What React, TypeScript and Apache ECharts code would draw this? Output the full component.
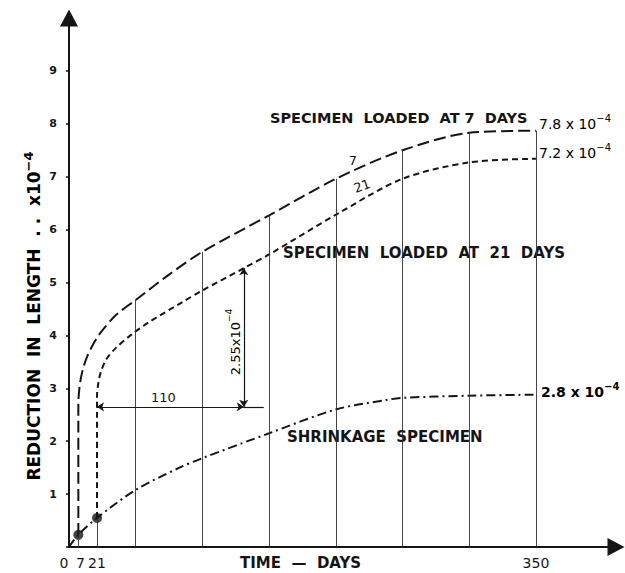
import React, { useEffect, useRef } from "react";
import * as echarts from "echarts";

// Specimen loaded at 7 days (reduction in length, x10^-4)
const days7 = [7, 7, 8, 10, 13, 17, 23, 35, 50, 75, 100, 150, 200, 250, 300, 350];
const vals7 = [0.23, 2.7, 3.05, 3.32, 3.56, 3.78, 4.03, 4.38, 4.67, 5.15, 5.58, 6.27, 6.96, 7.5, 7.83, 7.87];
// Specimen loaded at 21 days
const days21 = [21, 21, 22, 24, 28, 35, 47, 60, 85, 100, 131, 150, 200, 250, 300, 350];
const vals21 = [0.55, 2.85, 3.1, 3.32, 3.55, 3.76, 4.02, 4.25, 4.63, 4.85, 5.27, 5.53, 6.28, 6.96, 7.27, 7.34];
// Shrinkage specimen
const daysShr = [0, 7, 21, 50, 82, 100, 150, 200, 238, 250, 300, 350];
const valsShr = [0, 0.23, 0.55, 1.08, 1.49, 1.68, 2.15, 2.6, 2.78, 2.82, 2.86, 2.88];
// Loading points
const loadDays = [7, 21];
const loadVals = [0.23, 0.55];
// Vertical reference lines (days)
const gridDays = [50, 100, 150, 200, 250, 300, 350];
// Tick labels
const xTickLabels = [0, 7, 21, 350];
const yTickLabels = [1, 2, 3, 4, 5, 6, 7, 8, 9];
// Dimension annotation: 110 days after loading at 21 days
const dimStartDay = 21;
const dimSpan = 110;
const dimExtendDay = 146;
const dimBaseVal = 2.65;

export default function App() {
  const ref = useRef<HTMLDivElement>(null);
  useEffect(() => {
    const chart = echarts.init(ref.current!, null, { renderer: "svg" });
    const ink = "#151515";
    const ff = "'DejaVu Sans', sans-serif";
    const pair = (xs: number[], ys: number[]) => xs.map((x, i) => [x, ys[i]]);
    const lookup = (xs: number[], ys: number[], d: number) => {
      let v = 0;
      xs.forEach((x, i) => {
        if (x === d) v = ys[i];
      });
      return v;
    };
    const dimEndDay = dimStartDay + dimSpan;
    const dimTop = lookup(days21, vals21, dimEndDay);
    const gridLines = gridDays.map((d) => [
      { coord: [d, 0] },
      { coord: [d, lookup(days7, vals7, d)] },
    ]);
    const loadLines = loadDays.map((d, i) => [{ coord: [d, 0] }, { coord: [d, loadVals[i]] }]);

    const supRich = (base: number, sup: number, weight: string) => ({
      a: { fontSize: base, lineHeight: base + 8, fontFamily: ff, fontWeight: weight, color: ink },
      s: { fontSize: sup, lineHeight: sup + 2, verticalAlign: "top", fontFamily: ff, fontWeight: weight, color: ink },
    });

    const label = (text: string, x: number, y: number, size = 15, extra: any = {}) => ({
      type: "text",
      x,
      y,
      ...extra,
      style: {
        text,
        fill: ink,
        fontSize: size,
        fontWeight: "bold",
        fontFamily: ff,
        textAlign: extra.align || "left",
        textVerticalAlign: "middle",
        verticalAlign: "middle",
        ...(extra.style || {}),
      },
    });

    chart.setOption({
      animation: false,
      backgroundColor: "#ffffff",
      grid: { left: 69, right: 9, top: 18, bottom: 26 },
      xAxis: {
        type: "value",
        min: 0,
        max: 410,
        interval: 7,
        axisLine: {
          show: true,
          lineStyle: { color: ink, width: 2 },
          symbol: ["none", "triangle"],
          symbolSize: [18, 17],
        },
        axisTick: { show: false },
        splitLine: { show: false },
        axisLabel: {
          formatter: (v: number) => {
            if (!xTickLabels.includes(v)) return "";
            if (v === 0) return "{l|0}";
            if (v === 7) return "{r|7}";
            return String(v);
          },
          rich: {
            l: { padding: [0, 10, 0, 0], fontSize: 14, fontFamily: ff, color: ink },
            r: { padding: [0, 0, 0, 4], fontSize: 14, fontFamily: ff, color: ink },
          },
          color: ink,
          fontSize: 14,
          fontFamily: ff,
          margin: 9,
        },
      },
      yAxis: {
        type: "value",
        min: 0,
        max: 10,
        interval: 1,
        axisLine: {
          show: true,
          lineStyle: { color: ink, width: 2 },
          symbol: ["none", "triangle"],
          symbolSize: [18, 17],
        },
        axisTick: { show: true, length: 3, lineStyle: { color: ink, width: 1.5 } },
        splitLine: { show: false },
        axisLabel: {
          formatter: (v: number) => (yTickLabels.includes(v) ? String(v) : ""),
          color: ink,
          fontSize: 11,
          fontWeight: "bold",
          fontFamily: ff,
          margin: 12,
        },
      },
      series: [
        {
          name: "Loaded at 7 days",
          type: "line",
          data: pair(days7, vals7),
          smooth: 0.3,
          symbol: "none",
          lineStyle: { color: ink, width: 2, type: [12, 5] },
          markLine: {
            silent: true,
            symbol: ["none", "none"],
            label: { show: false },
            lineStyle: { color: "#333", width: 0.9, type: "solid" },
            data: gridLines,
          },
        },
        {
          name: "Loaded at 21 days",
          type: "line",
          data: pair(days21, vals21),
          smooth: 0.3,
          symbol: "none",
          lineStyle: { color: ink, width: 2, type: [6, 4] },
          markLine: {
            silent: true,
            symbol: ["arrow", "arrow"],
            symbolSize: 7,
            label: { show: false },
            lineStyle: { color: ink, width: 1.2, type: "solid" },
            data: [
              [{ coord: [dimStartDay, dimBaseVal] }, { coord: [dimEndDay, dimBaseVal] }],
              [
                { coord: [dimEndDay, dimBaseVal], symbol: "none" },
                { coord: [dimExtendDay, dimBaseVal], symbol: "none" },
              ],
              [{ coord: [dimEndDay, dimBaseVal] }, { coord: [dimEndDay, dimTop] }],
            ],
          },
        },
        {
          name: "Shrinkage",
          type: "line",
          data: pair(daysShr, valsShr),
          smooth: 0.3,
          symbol: "none",
          lineStyle: { color: ink, width: 2, type: [9, 4, 2, 4] },
          markLine: {
            silent: true,
            symbol: ["none", "none"],
            label: { show: false },
            lineStyle: { color: "#333", width: 0.9, type: "solid" },
            data: loadLines,
          },
        },
        {
          name: "Loading",
          type: "scatter",
          data: pair(loadDays, loadVals),
          symbol: "circle",
          symbolSize: 10,
          itemStyle: { color: ink },
        },
      ],
      graphic: [
        label("SPECIMEN  LOADED  AT 7  DAYS", 270, 118, 14.5),
        label("SPECIMEN  LOADED  AT  21  DAYS", 283, 253, 15),
        label("SHRINKAGE  SPECIMEN", 287, 437, 15),
        label("TIME  —  DAYS", 240, 563, 15),
        label("7", 353, 160, 13, { align: "center", style: { fontWeight: "normal" } }),
        label("21", 362, 186, 13, { align: "center", rotation: 0.35, style: { fontWeight: "normal" } }),
        label("110", 151, 397, 13, { style: { fontWeight: "normal" } }),
        {
          type: "text",
          x: 539,
          y: 124,
          style: {
            text: "{a|7.8 x 10}{s|−4}",
            rich: supRich(14, 10, "normal"),
            textVerticalAlign: "middle",
            verticalAlign: "middle",
          },
        },
        {
          type: "text",
          x: 539,
          y: 153,
          style: {
            text: "{a|7.2 x 10}{s|−4}",
            rich: supRich(14, 10, "normal"),
            textVerticalAlign: "middle",
            verticalAlign: "middle",
          },
        },
        {
          type: "text",
          x: 541,
          y: 392,
          style: {
            text: "{a|2.8 x 10}{s|−4}",
            rich: supRich(14, 10, "bold"),
            textVerticalAlign: "middle",
            verticalAlign: "middle",
          },
        },
        {
          type: "text",
          x: 235,
          y: 342,
          rotation: Math.PI / 2,
          style: {
            text: "{a|2.55x10}{s|−4}",
            rich: supRich(13, 9, "normal"),
            textAlign: "center",
            textVerticalAlign: "middle",
            verticalAlign: "middle",
          },
        },
        {
          type: "text",
          x: 34,
          y: 316,
          rotation: Math.PI / 2,
          style: {
            text: "{a|REDUCTION  IN  LENGTH  . .  x10}{s|−4}",
            rich: supRich(17, 13, "bold"),
            textAlign: "center",
            textVerticalAlign: "middle",
            verticalAlign: "middle",
          },
        },
      ],
    });
    return () => chart.dispose();
  }, []);
  return (
    <div
      ref={ref}
      style={{ position: "fixed", left: 0, top: 0, width: 625, height: 573, background: "#fff" }}
    />
  );
}
